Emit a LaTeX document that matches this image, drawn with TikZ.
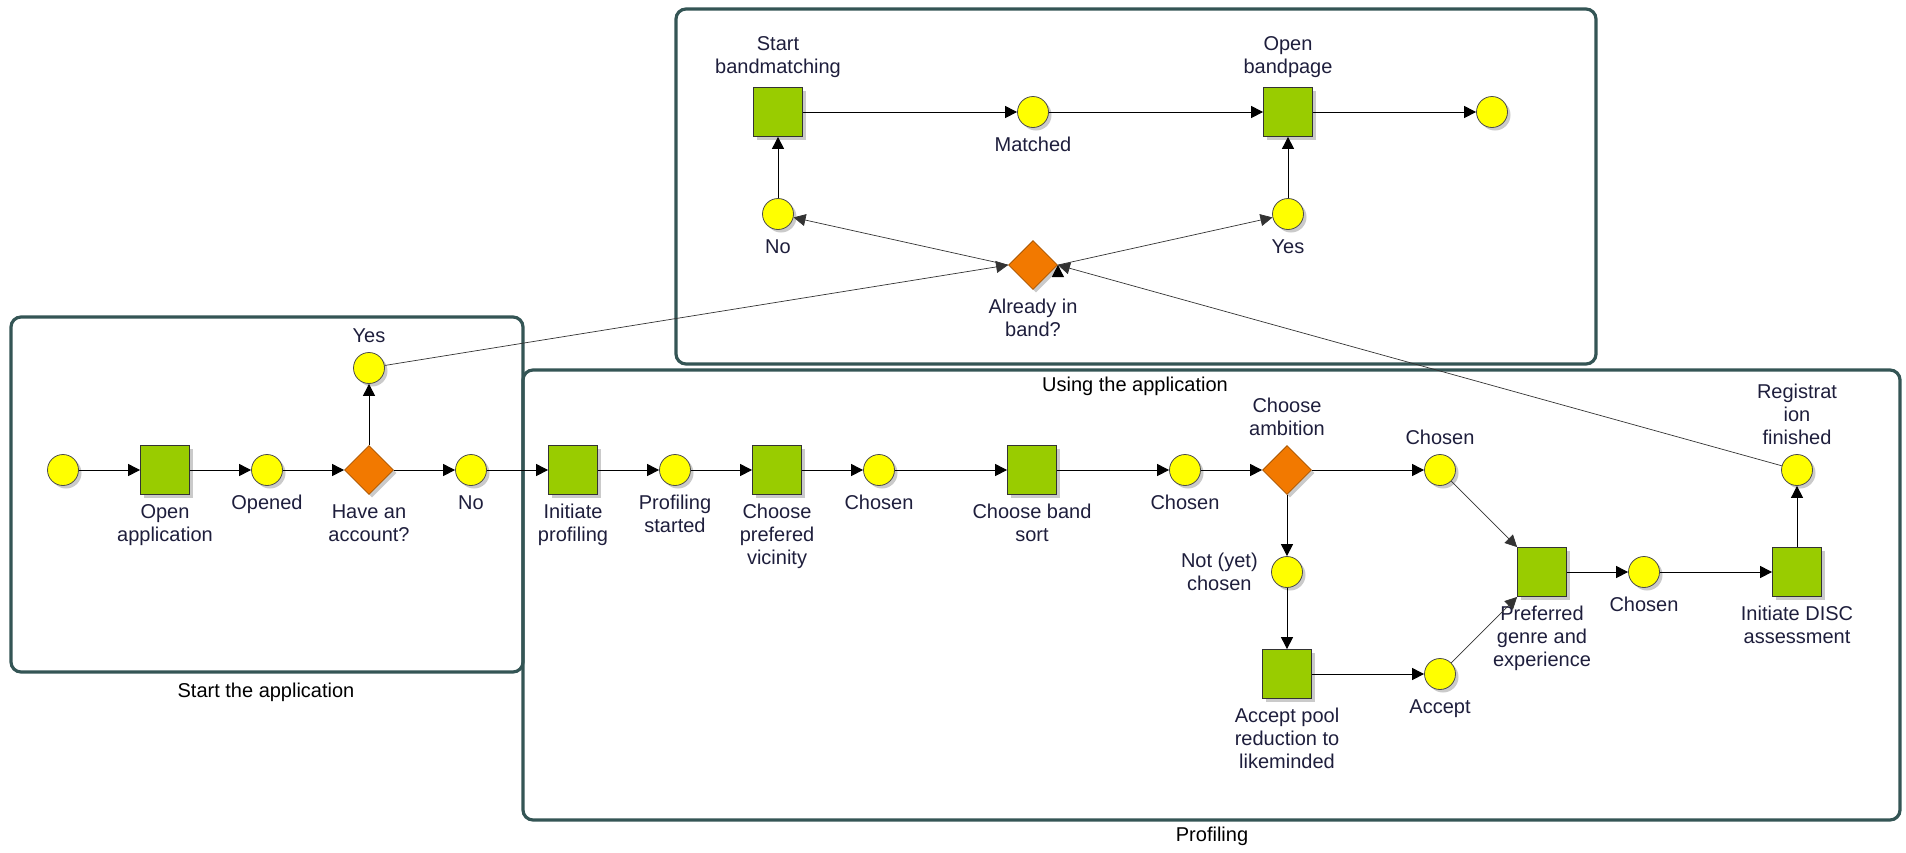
\documentclass[tikz,border=0pt]{standalone}
\usepackage{fontspec}
\setsansfont{Liberation Sans}
\usetikzlibrary{shapes.geometric,arrows.meta,shadows}

\definecolor{eventyellow}{RGB}{255,255,0}
\definecolor{funcgreen}{RGB}{153,204,0}
\definecolor{gateorange}{RGB}{242,121,0}
\definecolor{areaframe}{RGB}{52,85,85}
\definecolor{labelnavy}{RGB}{30,30,60}

\begin{document}
\begin{tikzpicture}[>={Triangle[length=6pt,width=6pt]},node distance=51pt,
    label distance=3.5pt,
    every label/.style={font=\sffamily\fontsize{10}{11.5}\selectfont,text=labelnavy,align=center,inner sep=1pt},
    node shadow/.style={drop shadow={shadow xshift=1.5pt,shadow yshift=-1.5pt,fill=black!35,opacity=0.6}},
    event node/.style={circle,draw=black!70,fill=eventyellow,minimum size=15.5pt,inner sep=0pt,node shadow},
    function node/.style={rectangle,draw=black!80,fill=funcgreen,minimum size=24.5pt,inner sep=0pt,node shadow},
    gate node/.style={diamond,draw=black!30!gateorange,fill=gateorange,minimum size=24.5pt,inner sep=0pt,node shadow},
    area box/.style={draw=areaframe,line width=1.6pt,rounded corners=5pt},
    area label/.style={font=\sffamily\fontsize{10}{11.5}\selectfont,text=black},
    flow/.style={->,draw=black,line width=0.5pt},
    thin flow/.style={->,draw=black!80,line width=0.35pt}]
    \useasboundingbox (0,0) rectangle (953pt,-426pt);

    % areas
    \draw[area box] (261.5pt,-185pt) rectangle (950pt,-410pt);
    \draw[area box] (5.5pt,-158.5pt) rectangle (261.5pt,-336pt);
    \draw[area box] (338pt,-4.5pt) rectangle (798pt,-182pt);
    \node[area label] (startarea) at (133pt,-346pt) {Start the application};
    \node[area label] (usingarea) at (567.5pt,-193pt) {Using the application};
    \node[area label] (profarea) at (606pt,-418pt) {Profiling};

    % start the application
    \node[event node] (1) at (31.5pt,-235pt) {};
    \node[function node] (2) [right of=1,label=below:Open\\application] {};
    \node[event node] (3) [right of=2,label=below:Opened] {};
    \node[gate node] (4) [right of=3,label=below:Have an\\account?] {};
    \node[event node] (5) [above of=4,label=above:Yes] {};
    \node[event node] (6) [right of=4,label=below:No] {};

    % profiling
    \node[function node] (7) [right of=6,label=below:Initiate\\profiling] {};
    \node[event node] (8) [right of=7,label=below:Profiling\\started] {};
    \node[function node] (9) [right of=8,label=below:Choose\\prefered\\vicinity] {};
    \node[event node] (10) [right of=9,label=below:Chosen] {};
    \node[function node] (11) [node distance=76.5pt,right of=10,label=below:Choose band\\sort] {};
    \node[event node] (12) [node distance=76.5pt,right of=11,label=below:Chosen] {};
    \node[gate node] (13) [right of=12,label=above:Choose\\ambition] {};
    \node[event node] (14) [node distance=76.5pt,right of=13,label=above:Chosen] {};
    \node[event node] (15) [below of=13,label={[label distance=5.5pt]left:Not (yet)\\chosen}] {};
    \node[function node] (16) [below of=15,label=below:Accept pool\\reduction to\\likeminded] {};
    \node[event node] (17) [node distance=76.5pt,right of=16,label=below:Accept] {};
    \node[function node] (18) [node distance=127.5pt,right of=15,label=below:Preferred\\genre and\\experience] {};
    \node[event node] (19) [right of=18,label=below:Chosen] {};
    \node[function node] (20) [node distance=76.5pt,right of=19,label=below:Initiate DISC\\assessment] {};
    \node[event node] (21) [above of=20,label=above:Registrat\\ion\\finished] {};

    % using the application
    \node[function node] (22) at (389pt,-56pt) [label=above:Start\\bandmatching] {};
    \node[event node] (23) [node distance=127.5pt,right of=22,label=below:Matched] {};
    \node[function node] (24) [node distance=127.5pt,right of=23,label=above:Open\\bandpage] {};
    \node[event node] (25) [node distance=102pt,right of=24] {};
    \node[event node] (26) [below of=22,label=below:No] {};
    \node[event node] (27) [below of=24,label=below:Yes] {};
    \node[gate node] (28) [node distance=76.5pt,below of=23,label=below:Already in\\band?] {};

    \path[flow]
        (1) edge (2)
        (2) edge (3)
        (3) edge (4)
        (4) edge (5)
        (4) edge (6)
        (6) edge (7)
        (7) edge (8)
        (8) edge (9)
        (9) edge (10)
        (10) edge (11)
        (11) edge (12)
        (12) edge (13)
        (13) edge (14)
        (13) edge (15)
        (15) edge (16)
        (16) edge (17)
        (14) edge[thin flow] (18.north west)
        (17) edge[thin flow] (18.south west)
        (18) edge (19)
        (19) edge (20)
        (20) edge (21)
        (21) edge[thin flow] (28.east)
        (5) edge[thin flow] (28.west)
        (28.west) edge[thin flow] (26)
        (28.east) edge[thin flow] (27)
        (26) edge (22)
        (27) edge (24)
        (22) edge (23)
        (23) edge (24)
        (24) edge (25);
\end{tikzpicture}
\end{document}
